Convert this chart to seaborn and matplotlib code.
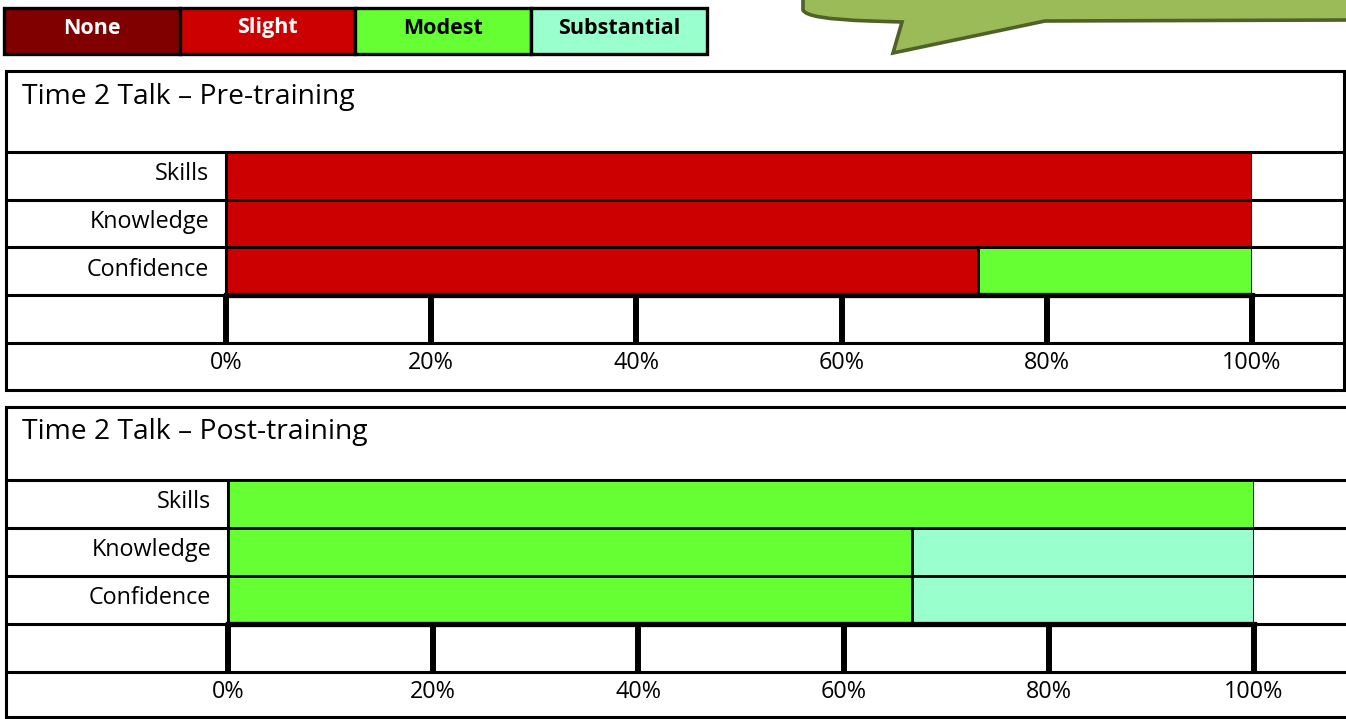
import numpy as np
import pandas as pd
import matplotlib
matplotlib.use("Agg")
import matplotlib.pyplot as plt
from matplotlib.patches import Rectangle, PathPatch
from matplotlib.path import Path
from matplotlib.transforms import ScaledTranslation
import seaborn as sns

# data
levels = ["None", "Slight", "Modest", "Substantial"]
level_colors = ["#800000", "#CC0000", "#66FF33", "#99FFCC"]
level_text_colors = ["white", "white", "black", "black"]
items = ["Skills", "Knowledge", "Confidence"]

pre_none = [0, 0, 0]
pre_slight = [100, 100, 73.3]
pre_modest = [0, 0, 26.7]
pre_substantial = [0, 0, 0]

post_none = [0, 0, 0]
post_slight = [0, 0, 0]
post_modest = [100, 66.7, 66.7]
post_substantial = [0, 33.3, 33.3]

x_ticks = [0, 20, 40, 60, 80, 100]
x_tick_labels = ["0%", "20%", "40%", "60%", "80%", "100%"]

sns.set_theme(style="white")
plt.rcParams["font.family"] = ["Open Sans", "DejaVu Sans"]

W, H = 1346, 719
fig = plt.figure(figsize=(W / 100, H / 100), dpi=100)
bg = fig.add_axes([0, 0, 1, 1])
bg.set_xlim(0, W)
bg.set_ylim(H, 0)
bg.axis("off")

LW = 2.2  # about 3 px


def px_ax(x0, y0, x1, y1):
    return [x0 / W, 1 - y1 / H, (x1 - x0) / W, (y1 - y0) / H]


# speech bubble at the top right
verts = [(803, -5), (803, 10), (806, 19), (870, 21), (902, 22), (893, 53),
         (1045, 21), (1350, 20), (1350, -5), (803, -5)]
codes = [Path.MOVETO, Path.LINETO, Path.CURVE3, Path.CURVE3, Path.LINETO,
         Path.LINETO, Path.LINETO, Path.LINETO, Path.LINETO, Path.CLOSEPOLY]
bg.add_patch(PathPatch(Path(verts, codes), facecolor="#9BBB59",
                       edgecolor="#4F6228", lw=2.6, joinstyle="miter"))

# legend boxes
for i, (lev, col, tc) in enumerate(zip(levels, level_colors, level_text_colors)):
    x = 4 + i * 175.7
    bg.add_patch(Rectangle((x, 8), 175.7, 46, facecolor=col, edgecolor="black", lw=2.4))
    bg.text(x + 88, 28, lev, color=tc, fontsize=15.5, fontweight="bold",
            ha="center", va="center")


def draw_panel(title, vals, top, title_bottom, bar_bottom, tick_bottom, bottom,
               x0, x100, right, right_border, title_base):
    row_h = (bar_bottom - title_bottom) / 3
    # table frame
    ys = [top, title_bottom] + [title_bottom + row_h * k for k in (1, 2)] + \
         [bar_bottom, tick_bottom, bottom]
    for y in ys:
        bg.plot([6, right], [y, y], color="black", lw=LW, solid_capstyle="projecting")
    bg.plot([6, 6], [top, bottom], color="black", lw=LW)
    if right_border:
        bg.plot([right, right], [top, bottom], color="black", lw=LW)
    bg.plot([x0, x0], [title_bottom, bar_bottom], color="black", lw=LW)
    bg.text(22, title_base, title, fontsize=20.3, va="baseline", color="black")

    df = pd.DataFrame({"item": items * len(levels),
                       "level": np.repeat(levels, len(items)),
                       "value": np.concatenate(vals)})
    df["cum"] = df.groupby("item")["value"].cumsum()

    ax = fig.add_axes(px_ax(x0, title_bottom, x100, bar_bottom))
    ax.patch.set_alpha(0)
    for lev, col in reversed(list(zip(levels, level_colors))):
        sub = df[(df["level"] == lev) & (df["value"] > 0)]
        if sub.empty:
            continue
        sns.barplot(data=sub, x="cum", y="item", order=items, orient="h",
                    color=col, saturation=1, width=1, errorbar=None,
                    edgecolor="black", linewidth=2, ax=ax)
    ax.set_xlim(0, 100)
    ax.set_ylim(2.5, -0.5)
    ax.set_xlabel("")
    ax.set_ylabel("")
    ax.set_xticks(x_ticks)
    ax.set_xticklabels(x_tick_labels)
    ax.tick_params(axis="x", bottom=True, direction="out", length=34.5, width=4.3,
                   color="black", pad=6, labelsize=16.8, labelcolor="black")
    ax.tick_params(axis="y", left=False, length=0, pad=12, labelsize=16.8,
                   labelcolor="black")
    lift = ScaledTranslation(0, 0.045, fig.dpi_scale_trans)
    for lab in ax.get_yticklabels():
        lab.set_transform(lab.get_transform() + lift)
    for s in ["top", "left", "right"]:
        ax.spines[s].set_visible(False)
    ax.spines["bottom"].set_color("black")
    ax.spines["bottom"].set_linewidth(3.8)
    return ax


draw_panel("Time 2 Talk \u2013 Pre-training",
           [pre_none, pre_slight, pre_modest, pre_substantial],
           71, 152, 295, 343, 390, 226, 1252, 1344, True, 104)
draw_panel("Time 2 Talk \u2013 Post-training",
           [post_none, post_slight, post_modest, post_substantial],
           407, 480, 624, 672, 717, 228, 1254, 1348, False, 439)

fig.savefig("out.png", dpi=100)
